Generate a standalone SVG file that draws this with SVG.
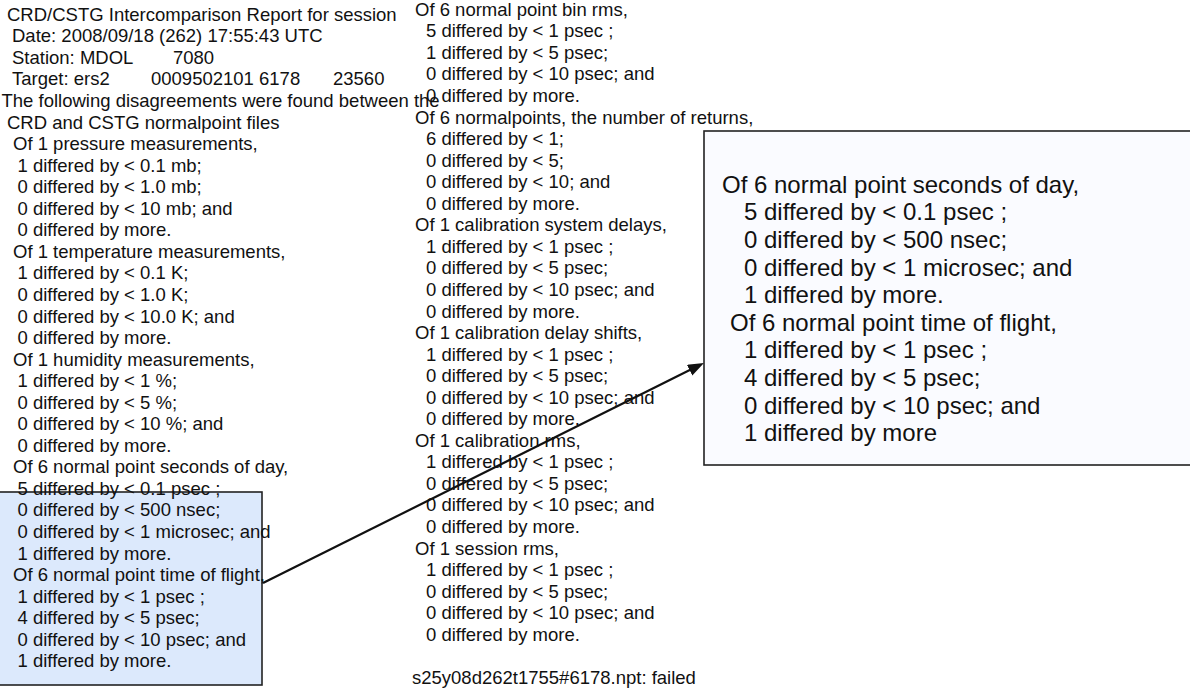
<svg xmlns="http://www.w3.org/2000/svg" width="1190" height="691" viewBox="0 0 1190 691">
<style>
text{font-family:"Liberation Sans",Arial,sans-serif;fill:#111}
.s{font-size:18.5px}
.b{font-size:24px}
.box{stroke:#222;stroke-width:1.6}
</style>
<defs>
<marker id="ah" markerUnits="userSpaceOnUse" markerWidth="18" markerHeight="14" refX="8" refY="6" orient="auto">
<path d="M0,0 L16,6 L0,12 z" fill="#111"/>
</marker>
</defs>
<rect width="1190" height="691" fill="#fff"/>
<g id="highlight-box"><rect class="box" x="-2" y="492" width="264" height="193" fill="#dce9fc"/></g>
<g id="callout-box">
<rect class="box" x="704" y="131" width="500" height="334" fill="#fafbff"/>
<text class="b">
<tspan x="722" y="192.7">Of 6 normal point seconds of day,</tspan>
<tspan x="744" y="220.3">5 differed by &lt; 0.1 psec ;</tspan>
<tspan x="744" y="247.9">0 differed by &lt; 500 nsec;</tspan>
<tspan x="744" y="275.5">0 differed by &lt; 1 microsec; and</tspan>
<tspan x="744" y="303.1">1 differed by more.</tspan>
<tspan x="730" y="330.7">Of 6 normal point time of flight,</tspan>
<tspan x="744" y="358.3">1 differed by &lt; 1 psec ;</tspan>
<tspan x="744" y="385.9">4 differed by &lt; 5 psec;</tspan>
<tspan x="744" y="413.5">0 differed by &lt; 10 psec; and</tspan>
<tspan x="744" y="441.1">1 differed by more</tspan>
</text>
</g>
<g id="report-left">
<text class="s">
<tspan x="7" y="20.8">CRD/CSTG Intercomparison Report for session</tspan>
<tspan x="12" y="42.35">Date: 2008/09/18 (262) 17:55:43 UTC</tspan>
<tspan x="12" y="63.9">Station: MDOL</tspan><tspan x="173" y="63.9">7080</tspan>
<tspan x="12" y="85.45">Target: ers2</tspan><tspan x="151" y="85.45">0009502101 6178</tspan><tspan x="333" y="85.45">23560</tspan>
<tspan x="1.5" y="107">The following disagreements were found between the</tspan>
<tspan x="7" y="128.55">CRD and CSTG normalpoint files</tspan>
<tspan x="13" y="150.1">Of 1 pressure measurements,</tspan>
<tspan x="17.5" y="171.65">1 differed by &lt; 0.1 mb;</tspan>
<tspan x="17.5" y="193.2">0 differed by &lt; 1.0 mb;</tspan>
<tspan x="17.5" y="214.75">0 differed by &lt; 10 mb; and</tspan>
<tspan x="17.5" y="236.3">0 differed by more.</tspan>
<tspan x="13" y="257.85">Of 1 temperature measurements,</tspan>
<tspan x="17.5" y="279.4">1 differed by &lt; 0.1 K;</tspan>
<tspan x="17.5" y="300.95">0 differed by &lt; 1.0 K;</tspan>
<tspan x="17.5" y="322.5">0 differed by &lt; 10.0 K; and</tspan>
<tspan x="17.5" y="344.05">0 differed by more.</tspan>
<tspan x="13" y="365.6">Of 1 humidity measurements,</tspan>
<tspan x="17.5" y="387.15">1 differed by &lt; 1 %;</tspan>
<tspan x="17.5" y="408.7">0 differed by &lt; 5 %;</tspan>
<tspan x="17.5" y="430.25">0 differed by &lt; 10 %; and</tspan>
<tspan x="17.5" y="451.8">0 differed by more.</tspan>
<tspan x="13" y="473.35">Of 6 normal point seconds of day,</tspan>
<tspan x="17.5" y="494.9">5 differed by &lt; 0.1 psec ;</tspan>
<tspan x="17.5" y="516.45">0 differed by &lt; 500 nsec;</tspan>
<tspan x="17.5" y="538">0 differed by &lt; 1 microsec; and</tspan>
<tspan x="17.5" y="559.55">1 differed by more.</tspan>
<tspan x="13" y="581.1">Of 6 normal point time of flight,</tspan>
<tspan x="17.5" y="602.65">1 differed by &lt; 1 psec ;</tspan>
<tspan x="17.5" y="624.2">4 differed by &lt; 5 psec;</tspan>
<tspan x="17.5" y="645.75">0 differed by &lt; 10 psec; and</tspan>
<tspan x="17.5" y="667.3">1 differed by more.</tspan>
</text>
</g>
<g id="report-right">
<text class="s">
<tspan x="415" y="15.8">Of 6 normal point bin rms,</tspan>
<tspan x="426" y="37.35">5 differed by &lt; 1 psec ;</tspan>
<tspan x="426" y="58.9">1 differed by &lt; 5 psec;</tspan>
<tspan x="426" y="80.45">0 differed by &lt; 10 psec; and</tspan>
<tspan x="426" y="102">0 differed by more.</tspan>
<tspan x="415" y="123.55">Of 6 normalpoints, the number of returns,</tspan>
<tspan x="426" y="145.1">6 differed by &lt; 1;</tspan>
<tspan x="426" y="166.65">0 differed by &lt; 5;</tspan>
<tspan x="426" y="188.2">0 differed by &lt; 10; and</tspan>
<tspan x="426" y="209.75">0 differed by more.</tspan>
<tspan x="415" y="231.3">Of 1 calibration system delays,</tspan>
<tspan x="426" y="252.85">1 differed by &lt; 1 psec ;</tspan>
<tspan x="426" y="274.4">0 differed by &lt; 5 psec;</tspan>
<tspan x="426" y="295.95">0 differed by &lt; 10 psec; and</tspan>
<tspan x="426" y="317.5">0 differed by more.</tspan>
<tspan x="415" y="339.05">Of 1 calibration delay shifts,</tspan>
<tspan x="426" y="360.6">1 differed by &lt; 1 psec ;</tspan>
<tspan x="426" y="382.15">0 differed by &lt; 5 psec;</tspan>
<tspan x="426" y="403.7">0 differed by &lt; 10 psec; and</tspan>
<tspan x="426" y="425.25">0 differed by more.</tspan>
<tspan x="415" y="446.8">Of 1 calibration rms,</tspan>
<tspan x="426" y="468.35">1 differed by &lt; 1 psec ;</tspan>
<tspan x="426" y="489.9">0 differed by &lt; 5 psec;</tspan>
<tspan x="426" y="511.45">0 differed by &lt; 10 psec; and</tspan>
<tspan x="426" y="533">0 differed by more.</tspan>
<tspan x="415" y="554.55">Of 1 session rms,</tspan>
<tspan x="426" y="576.1">1 differed by &lt; 1 psec ;</tspan>
<tspan x="426" y="597.65">0 differed by &lt; 5 psec;</tspan>
<tspan x="426" y="619.2">0 differed by &lt; 10 psec; and</tspan>
<tspan x="426" y="640.75">0 differed by more.</tspan>
<tspan x="412" y="683.85">s25y08d262t1755#6178.npt: failed</tspan>
</text>
</g>
<g id="connectors">
<line x1="263" y1="583" x2="696.8" y2="366.6" stroke="#111" stroke-width="2.2" marker-end="url(#ah)"/>
</g>
</svg>
